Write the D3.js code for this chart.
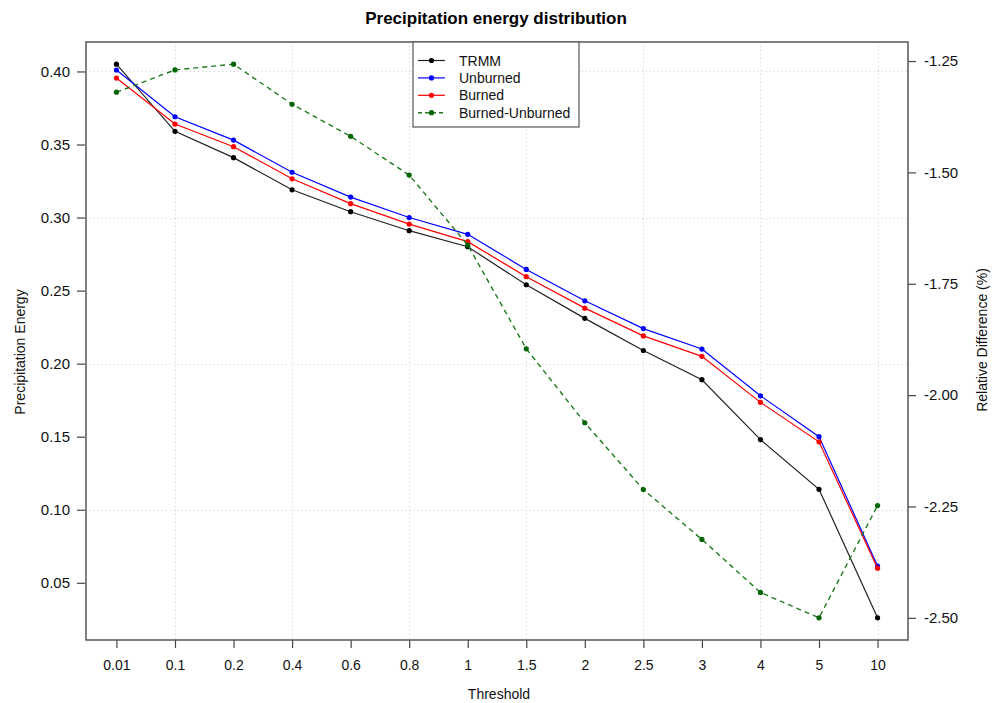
<!DOCTYPE html>
<html>
<head>
<meta charset="utf-8">
<script src="https://cdn.jsdelivr.net/npm/d3@7"></script>
<style>
  body { margin: 0; background: #fff; }
  svg { display: block; font-family: "Liberation Sans", Arial, sans-serif; }
</style>
</head>
<body>
<svg id="chart" width="998" height="703"></svg>
<script>
// Rain-rate thresholds (mm/h) used as categories
const thresholds = ["0.01", "0.1", "0.2", "0.4", "0.6", "0.8", "1", "1.5", "2", "2.5", "3", "4", "5", "10"];

// Precipitation energy fraction per threshold
const trmm     = [0.405, 0.359, 0.341, 0.319, 0.304, 0.291, 0.280, 0.254, 0.231, 0.209, 0.189, 0.148, 0.114, 0.026];
const unburned = [0.401, 0.369, 0.353, 0.331, 0.314, 0.300, 0.2885, 0.2645, 0.243, 0.224, 0.210, 0.178, 0.150, 0.0615];
const burned   = [0.3955, 0.364, 0.3485, 0.3265, 0.3095, 0.2955, 0.2835, 0.2595, 0.238, 0.219, 0.205, 0.1735, 0.1465, 0.060];

// Relative difference Burned vs Unburned (%), right axis
const relDiff  = [-1.32, -1.27, -1.257, -1.347, -1.419, -1.506, -1.663, -1.896, -2.062, -2.212, -2.324, -2.443, -2.50, -2.248];

const leftTicks  = [0.05, 0.10, 0.15, 0.20, 0.25, 0.30, 0.35, 0.40];
const rightTicks = [-2.50, -2.25, -2.00, -1.75, -1.50, -1.25];
const hGrid = [0.1, 0.2, 0.3, 0.4];
const vGrid = ["0.1", "0.4", "0.8", "1.5", "2.5", "4", "10"];

const series = [
  { name: "TRMM",     values: trmm,     line: "#222", point: "#000", axis: "left" },
  { name: "Unburned", values: unburned, line: "#0000ff", point: "#0000ff", axis: "left" },
  { name: "Burned",   values: burned,   line: "#ff0000", point: "#ff0000", axis: "left" },
  { name: "Burned-Unburned", values: relDiff, line: "#1f7a1f", point: "#006400", axis: "right", dash: "5,4" }
];

const svg = d3.select("#chart");
const box = { left: 86, right: 908, top: 42, bottom: 640 };

// R-style 4% padding around the data range
function padded(vals) {
  const [lo, hi] = d3.extent(vals);
  const p = (hi - lo) * 0.04;
  return [lo - p, hi + p];
}

const x = d3.scalePoint().domain(thresholds).range([box.left, box.right]).padding(0.52);
const yL = d3.scaleLinear().domain(padded(trmm.concat(unburned, burned))).range([box.bottom, box.top]);
const yR = d3.scaleLinear().domain(padded(relDiff)).range([box.bottom, box.top]);

// Grid
const grid = svg.append("g").attr("stroke", "#cfcfcf").attr("stroke-width", 1).attr("stroke-dasharray", "1,3");
grid.selectAll("line.h").data(hGrid).join("line")
  .attr("x1", box.left).attr("x2", box.right)
  .attr("y1", d => Math.round(yL(d)) + 0.5).attr("y2", d => Math.round(yL(d)) + 0.5);
grid.selectAll("line.v").data(vGrid).join("line")
  .attr("x1", d => Math.round(x(d)) + 0.5).attr("x2", d => Math.round(x(d)) + 0.5)
  .attr("y1", box.top).attr("y2", box.bottom);

// Axes
const axisL = svg.append("g").attr("transform", `translate(${box.left - 1},0)`)
  .call(d3.axisLeft(yL).tickValues(leftTicks).tickFormat(d => d.toFixed(2)).tickSize(8).tickPadding(7));
const axisR = svg.append("g").attr("transform", `translate(${box.right},0)`)
  .call(d3.axisRight(yR).tickValues(rightTicks).tickFormat(d => d.toFixed(2)).tickSize(8).tickPadding(8));
const axisB = svg.append("g").attr("transform", `translate(0,${box.bottom})`)
  .call(d3.axisBottom(x).tickSize(8).tickPadding(12));

[axisL, axisR, axisB].forEach(g => {
  g.select(".domain").remove();
  g.selectAll(".tick line").attr("stroke", "#444").attr("stroke-width", 1.2);
  g.selectAll(".tick text").attr("fill", "#111").attr("font-family", "Liberation Sans, Arial, sans-serif");
});
axisL.selectAll(".tick text").attr("font-size", 15);
axisR.selectAll(".tick text").attr("font-size", 15);
axisB.selectAll(".tick text").attr("font-size", 14);

// Plot frame
svg.append("rect")
  .attr("x", box.left).attr("y", box.top)
  .attr("width", box.right - box.left).attr("height", box.bottom - box.top)
  .attr("fill", "none").attr("stroke", "#555").attr("stroke-width", 1.5);

// Series lines and points
series.forEach(s => {
  const y = s.axis === "left" ? yL : yR;
  const line = d3.line().x((d, i) => x(thresholds[i])).y(d => y(d));
  svg.append("path").datum(s.values)
    .attr("d", line).attr("fill", "none")
    .attr("stroke", s.line).attr("stroke-width", s.dash ? 1.4 : 1.2)
    .attr("stroke-dasharray", s.dash || null);
  svg.append("g").selectAll("circle").data(s.values).join("circle")
    .attr("cx", (d, i) => x(thresholds[i])).attr("cy", d => y(d))
    .attr("r", 2.6).attr("fill", s.point);
});

// Titles
svg.append("text").attr("x", 496).attr("y", 24).attr("text-anchor", "middle")
  .attr("font-size", 17).attr("font-weight", "bold").attr("fill", "#000")
  .text("Precipitation energy distribution");
svg.append("text").attr("x", 499).attr("y", 699).attr("text-anchor", "middle")
  .attr("font-size", 14).attr("fill", "#111").text("Threshold");
svg.append("text").attr("transform", "translate(25,352) rotate(-90)").attr("text-anchor", "middle")
  .attr("font-size", 14).attr("fill", "#111").text("Precipitation Energy");
svg.append("text").attr("transform", "translate(987,340) rotate(-90)").attr("text-anchor", "middle")
  .attr("font-size", 14).attr("fill", "#111").text("Relative Difference (%)");

// Legend
const lg = svg.append("g");
lg.append("rect").attr("x", 413).attr("y", 42).attr("width", 166).attr("height", 85)
  .attr("fill", "#fff").attr("stroke", "#555").attr("stroke-width", 1.2);
series.forEach((s, i) => {
  const yy = 60.5 + i * 17.4;
  lg.append("line").attr("x1", 418).attr("x2", 445).attr("y1", yy).attr("y2", yy)
    .attr("stroke", s.line).attr("stroke-width", s.dash ? 1.4 : 1.2)
    .attr("stroke-dasharray", s.dash ? "4,3" : null);
  lg.append("circle").attr("cx", 431.5).attr("cy", yy).attr("r", 2.6).attr("fill", s.point);
  lg.append("text").attr("x", 459).attr("y", yy + 5).attr("font-size", 14).attr("fill", "#111").text(s.name);
});
</script>
</body>
</html>
